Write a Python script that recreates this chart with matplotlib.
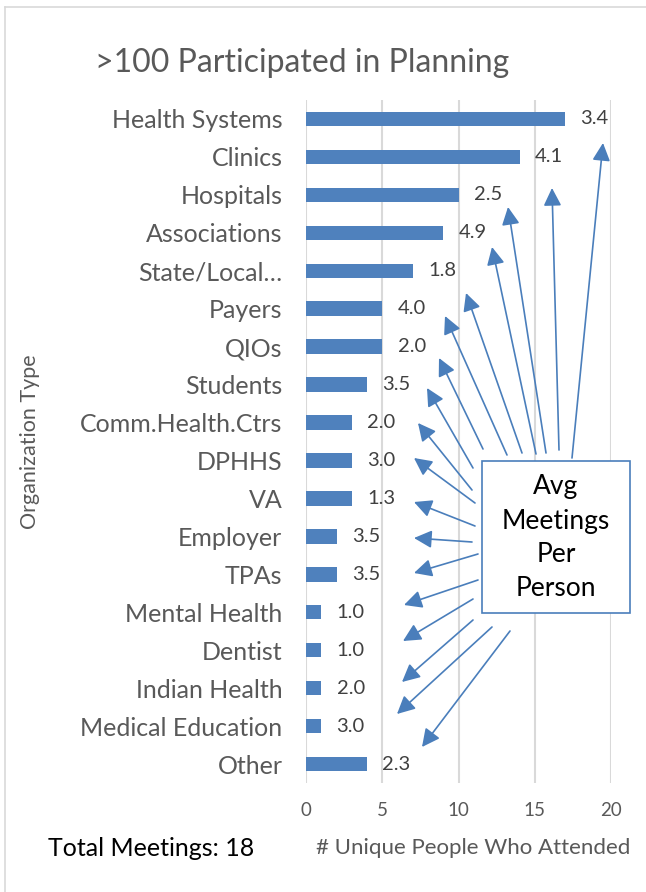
import matplotlib
matplotlib.use("Agg")
import matplotlib.pyplot as plt
from matplotlib.lines import Line2D
from matplotlib.patches import Rectangle, FancyArrowPatch

# chart data
categories = ["Health Systems", "Clinics", "Hospitals", "Associations", "State/Local\u2026",
              "Payers", "QIOs", "Students", "Comm.Health.Ctrs", "DPHHS", "VA", "Employer",
              "TPAs", "Mental Health", "Dentist", "Indian Health", "Medical Education", "Other"]
people = [17, 14, 10, 9, 7, 5, 5, 4, 3, 3, 3, 2, 2, 1, 1, 1, 1, 4]
avg_meetings = [3.4, 4.1, 2.5, 4.9, 1.8, 4.0, 2.0, 3.5, 2.0, 3.0, 1.3, 3.5, 3.5,
                1.0, 1.0, 2.0, 3.0, 2.3]
x_ticks = [0, 5, 10, 15, 20]

# callout arrows (tail -> head), in image pixels from top-left
arrows = [((572, 458), (603, 143)), ((559, 450), (552, 188)), ((546, 453), (508, 207)),
          ((536, 454), (492, 247)), ((522, 453), (466, 293)), ((507, 455), (445, 316)),
          ((483, 449), (439, 358)), ((473, 468), (427, 388)), ((472, 490), (418, 423)),
          ((475, 503), (414, 458)), ((475, 526), (414, 502)), ((472, 542), (414, 538)),
          ((478, 554), (414, 573)), ((478, 580), (404, 605)), ((473, 599), (403, 641)),
          ((473, 620), (402, 682)), ((492, 627), (397, 714)), ((510, 631), (422, 747))]

W, H = 646, 892
plt.rcParams['font.family'] = ['Lato', 'DejaVu Sans']
fig = plt.figure(figsize=(W / 100, H / 100), dpi=100)
fig.patch.set_facecolor("white")

# chart area border
fig.add_artist(Line2D([5 / W, 5 / W], [0, 1 - 7 / H], color="#d9d9d9", lw=1.2))
fig.add_artist(Line2D([5 / W, 1], [1 - 7 / H, 1 - 7 / H], color="#d9d9d9", lw=1.2))

ax = fig.add_axes([306 / W, 1 - 783 / H, 305 / W, 683 / H])
bar_color = "#4f81bd"
ypos = list(range(len(categories)))
ax.barh(ypos, people, height=0.38, color=bar_color, zorder=3)
ax.set_ylim(len(categories) - 0.5, -0.5)
ax.set_xlim(0, 20)
ax.set_yticks(ypos)
ax.set_yticklabels(categories, fontsize=18, color="#595959")
ax.set_xticks(x_ticks)
ax.set_xticklabels([str(t) for t in x_ticks], fontsize=13.5, color="#595959")
ax.tick_params(axis="both", length=0)
ax.tick_params(axis="y", pad=17)
ax.tick_params(axis="x", pad=14)
for s in ax.spines.values():
    s.set_visible(False)
ax.grid(axis="x", color="#d9d9d9", lw=1.5, zorder=0)

for y, v, a in zip(ypos, people, avg_meetings):
    ax.annotate(f"{a:.1f}", (v, y), xytext=(11, 0), textcoords="offset points",
                ha="left", va="center", fontsize=14.5, color="#404040")

fig.text(473 / W, 1 - 848 / H, "# Unique People Who Attended", fontsize=16,
         color="#595959", ha="center", va="center")
fig.text(30 / W, 1 - 442 / H, "Organization Type", fontsize=15.5, color="#595959",
         rotation=90, ha="center", va="center")

fig.text(95 / W, 1 - 63 / H, ">100 Participated in Planning", fontsize=23,
         color="#595959", ha="left", va="center")
fig.text(48 / W, 1 - 848 / H, "Total Meetings: 18", fontsize=18, color="black",
         ha="left", va="center")

# callout box
fig.add_artist(Rectangle((482 / W, 1 - 613 / H), 148 / W, 152 / H, transform=fig.transFigure,
                         facecolor="white", edgecolor="#4a7ebb", lw=1.2, zorder=5))
fig.text(556 / W, 1 - 538 / H, "Avg\nMeetings\nPer\nPerson", fontsize=19, color="black",
         ha="center", va="center", linespacing=1.45, zorder=6)

for (x0, y0), (x1, y1) in arrows:
    fig.add_artist(FancyArrowPatch(
        (x0 / W, 1 - y0 / H), (x1 / W, 1 - y1 / H), transform=fig.transFigure,
        arrowstyle="-|>,head_length=0.9,head_width=0.45", mutation_scale=12,
        color="#4a7ebb", lw=1.2, shrinkA=0, shrinkB=0, zorder=4))

fig.savefig("out.png", dpi=100, facecolor="white")
